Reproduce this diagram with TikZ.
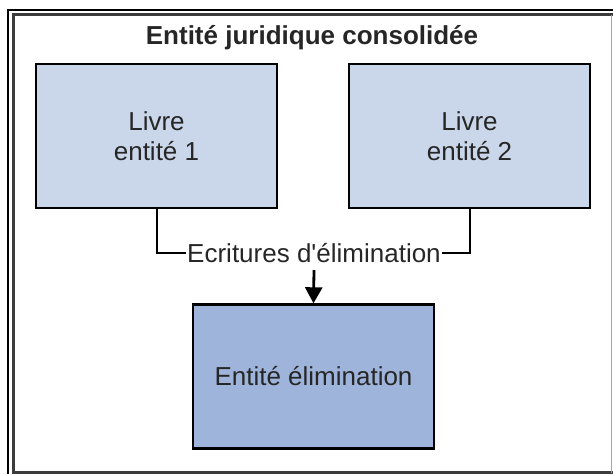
\documentclass[tikz,border=0pt]{standalone}
\usepackage{fontspec}
\setmainfont{Liberation Sans}[Ligatures=TeXOff]
\usetikzlibrary{arrows.meta}
\definecolor{livreblue}{HTML}{CAD7EA}
\definecolor{elimblue}{HTML}{9FB4DB}
\definecolor{framegray}{HTML}{3C3C3C}
\begin{document}
\begin{tikzpicture}[x=1pt, y=-1pt,
  box/.style={draw, line width=2.4pt, minimum width=241pt, minimum height=144pt, align=center, font=\fontsize{26}{30}\selectfont, text=black!85},
  lbl/.style={font=\fontsize{26}{30}\selectfont, text=black!85, inner sep=0pt, text height=19pt, text depth=0pt},
  conn/.style={line width=2pt}]
\useasboundingbox (0,0) rectangle (613,474);
\draw[line width=2pt] (7.5,474) -- (7.5,9.5) -- (613,9.5);
\draw[framegray, line width=3pt] (13.5,474) -- (13.5,14.5) -- (613,14.5);
\draw[framegray, line width=3pt] (13.5,472.5) -- (613,472.5);
\draw[black!35, line width=1.5pt] (611.5,14.5) -- (611.5,472.5);
\node[font=\bfseries\fontsize{26}{30}\selectfont, text=black!85] (titre) at (312,38){Entité juridique consolidée};
\node[box, fill=livreblue] (livre1) at (156.5,136){Livre\\entité 1};
\node[box, fill=livreblue] (livre2) at (469.5,136){Livre\\entité 2};
\node[box, fill=elimblue] (elim) at (313.5,376.5){Entité élimination};
\node[lbl, anchor=base] (ecr) at (314,262){Ecritures d'élimination};
\draw[conn](livre1.south) |- ([xshift=-1pt]ecr.west);
\draw[conn](livre2.south) |- ([xshift=1pt]ecr.east);
\draw[line width=2.8pt, -{Triangle[width=17pt, length=16pt]}]([yshift=-8pt]ecr.south) -- (elim.north);
\end{tikzpicture}
\end{document}
